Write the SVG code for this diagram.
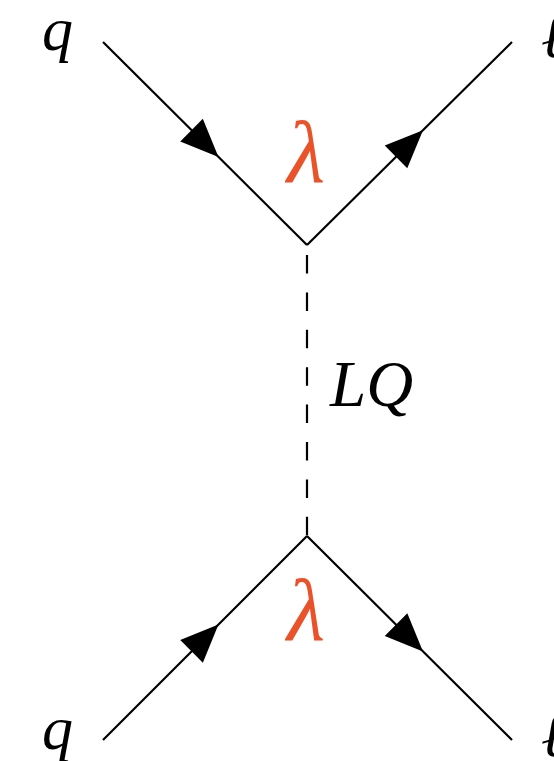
<svg xmlns="http://www.w3.org/2000/svg" width="554" height="761" viewBox="0 0 554 761">
<style>
.f{fill:none;stroke:#000;stroke-width:2.2;marker-mid:url(#arr)}
.d{fill:none;stroke:#000;stroke-width:2.2;stroke-dasharray:18.5 18.9}
.m{font-family:"Liberation Serif","DejaVu Serif",serif;font-style:italic;fill:#000}
.c{font-family:"Liberation Serif","DejaVu Serif",serif;font-style:italic;fill:#EA5329}
</style>
<defs>
<marker id="arr" markerUnits="userSpaceOnUse" markerWidth="40" markerHeight="40" viewBox="-20 -20 40 40" refX="0" refY="0" orient="auto">
<path d="M-19,-16 L19,0 L-19,16 Z" fill="#000"/>
</marker>
</defs>
<rect width="554" height="761" fill="#fff"/>
<g id="connectors">
<path class="f" d="M103,42 L205,143.5 L307,245"/>
<path class="f" d="M307,245 L409.5,143.5 L512,42"/>
<path class="d" d="M307,255 L307,536"/>
<path class="f" d="M103,740 L205,638 L307,536"/>
<path class="f" d="M307,536 L409.5,638 L512,740"/>
</g>
<g id="q-top"><text class="m" x="42" y="50" font-size="62">q</text></g>
<g id="l-top"><text class="m" x="541" y="57" font-size="62">ℓ</text></g>
<g id="lambda-top"><text class="c" x="306" y="182" font-size="88" text-anchor="middle">λ</text></g>
<g id="LQ"><text class="m" x="330" y="406" font-size="65">LQ</text></g>
<g id="lambda-bottom"><text class="c" x="306" y="640" font-size="88" text-anchor="middle">λ</text></g>
<g id="q-bottom"><text class="m" x="42" y="749" font-size="62">q</text></g>
<g id="l-bottom"><text class="m" x="541" y="756" font-size="62">ℓ</text></g>
</svg>
